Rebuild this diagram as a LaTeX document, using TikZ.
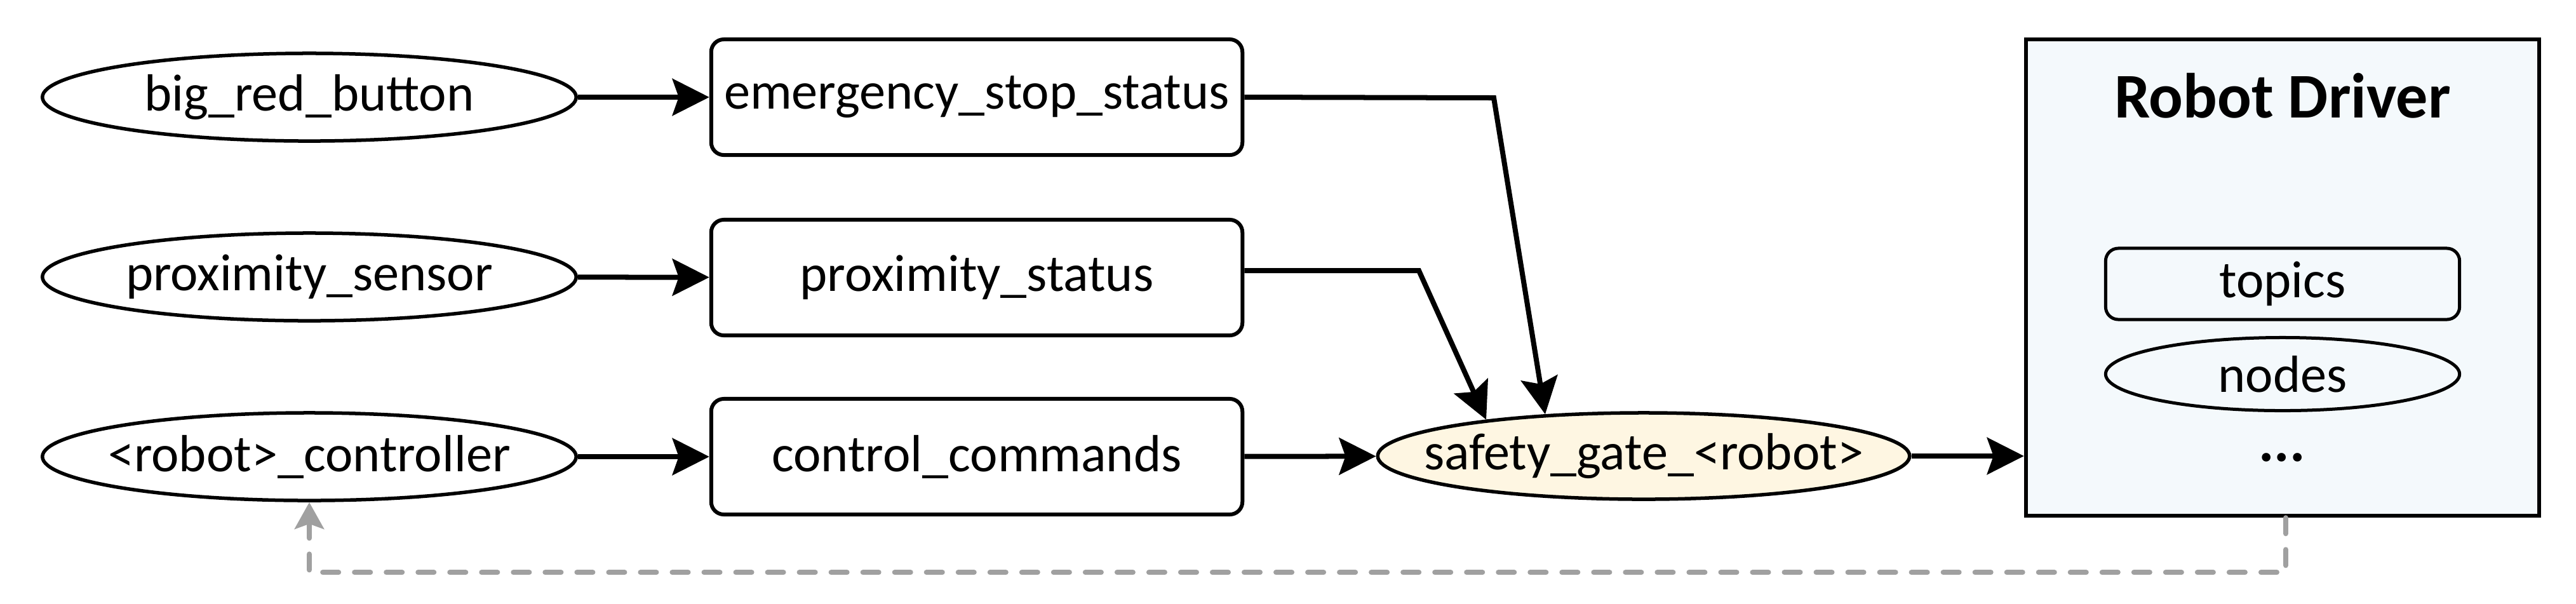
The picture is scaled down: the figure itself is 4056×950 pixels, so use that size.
\documentclass[tikz,border=0pt]{standalone}
\usepackage{fontspec}
\setmainfont{Carlito}
\usetikzlibrary{shapes.geometric,arrows.meta}
\definecolor{gatefill}{HTML}{FEF6E2}
\definecolor{drvfill}{HTML}{F4F9FC}
\definecolor{fbgray}{HTML}{A0A0A0}
\tikzset{
  lbl/.style={font=\fontsize{23.4}{28}\selectfont},
  topicell/.style={ellipse, draw, line width=0.055cm, minimum width=8.4cm, minimum height=1.38cm, inner xsep=-3cm, inner ysep=0pt, lbl},
  msgbox/.style={rectangle, draw, line width=0.06cm, rounded corners=0.2cm, minimum width=8.36cm, minimum height=1.82cm, inner sep=0pt, lbl},
  conn/.style={line width=0.08cm, -{Stealth[length=0.58cm, width=0.58cm, inset=0.1cm]}},
  feedback/.style={draw=fbgray, line width=0.08cm, dash pattern=on 0.25cm off 0.25cm, line cap=round,
    -{Stealth[length=0.42cm, width=0.46cm, inset=0.08cm, fill=fbgray]}},
}
\begin{document}
\begin{tikzpicture}[x=0.01cm, y=-0.01cm]
\useasboundingbox (0,0) rectangle (4056,950);
% left column
\node[topicell] (brb) at (487,153) {big\_red\_button};
\node[topicell] (psens) at (487,436) {proximity\_sensor};
\node[topicell] (ctrl) at (487,719) {<robot>\_controller};
% middle column
\node[msgbox] (estop) at (1538,153) {emergency\_stop\_status};
\node[msgbox] (pstat) at (1538,437) {proximity\_status};
\node[msgbox] (cmd) at (1538,719) {control\_commands};
% safety gate
\node[topicell, fill=gatefill, minimum width=8.37cm, minimum height=1.36cm] (gate) at (2588,718) {safety\_gate\_<robot>};
% robot driver
\node[rectangle, draw, line width=0.06cm, fill=drvfill, minimum width=8.08cm, minimum height=7.50cm, inner sep=0pt] (drv) at (3594,437) {};
\node[anchor=base, font=\fontsize{28.5}{34}\selectfont\bfseries] (drvtitle) at (3594,185) {Robot Driver};
\node[rectangle, draw, line width=0.05cm, rounded corners=0.2cm, minimum width=5.57cm, minimum height=1.12cm, inner sep=0pt, lbl] (topics) at (3594,447) {topics};
\node[ellipse, draw, line width=0.05cm, minimum width=5.57cm, minimum height=1.15cm, inner xsep=-2cm, inner ysep=0pt, lbl] (nodes) at (3594,589) {nodes};
\node[anchor=base, font=\fontsize{26}{30}\selectfont\bfseries] (more) at (3593,726) {...};
% connectors
\draw[conn] (brb) -- (estop);
\draw[conn] (psens) -- (pstat);
\draw[conn] (ctrl) -- (cmd);
\coordinate (ebend) at (2352,154);
\coordinate (pbend) at (2234,426);
\draw[conn] (estop.east) -- (ebend) -- (gate.157);
\draw[conn] ([yshift=0.11cm]pstat.east) -- (pbend) -- (gate.167.5);
\draw[conn] (cmd) -- (gate);
\draw[conn] (gate) -- (gate -| drv.west);
\draw[feedback] ([xshift=0.05cm]drv.south) -- ++(0,86) -| (ctrl.south);
\end{tikzpicture}
\end{document}
